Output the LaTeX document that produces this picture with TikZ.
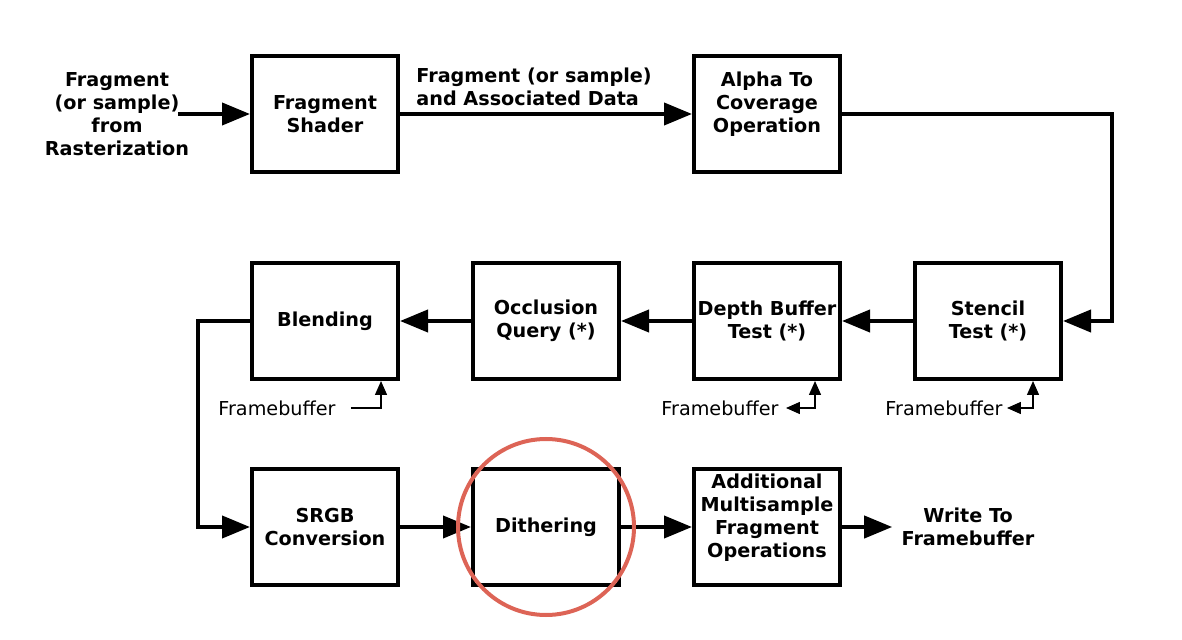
\documentclass[tikz,border=0pt]{standalone}
\usepackage{fontspec}
\setmainfont{DejaVu Sans}
\usetikzlibrary{positioning, arrows.meta}

\definecolor{ringred}{RGB}{221,100,86}

\tikzset{
  stage/.style={draw, line width=2pt, minimum width=73pt, minimum height=58pt,
    align=center, inner sep=0pt, font=\fontsize{9.6}{11.5}\selectfont\bfseries},
  plain/.style={align=center, inner sep=0pt, font=\fontsize{9.6}{11.5}\selectfont\bfseries},
  fbtext/.style={inner sep=0pt, font=\fontsize{9.6}{11.5}\selectfont},
  flow/.style={line width=2pt, -{Triangle[length=14pt,width=11pt]}},
  fbflow/.style={line width=0.7pt, -{Triangle[length=7pt,width=6pt]}},
  fbboth/.style={line width=0.7pt, {Triangle[length=7pt,width=6pt]}-{Triangle[length=7pt,width=6pt]}},
}

\begin{document}
\begin{tikzpicture}[x=0.5pt, y=-0.5pt]
  \useasboundingbox (0,0) rectangle (1182,640);

  %first row
  \node[plain] (src) at (117,114) {Fragment\\(or sample)\\from\\Rasterization};
  \node[stage] (shader) at (325,114) {Fragment\\Shader};
  \node[stage] (alpha) at (767,114) {Alpha To\\Coverage\\Operation\\\mbox{}};
  \node[plain, anchor=west, align=left] (datalbl) at (416,87) {Fragment (or sample)\\and Associated Data};

  %second row
  \node[stage] (blend) at (325,321) {Blending};
  \node[stage] (occl) at (546,321) {Occlusion\\Query (*)};
  \node[stage] (depth) at (767,321) {Depth Buffer\\Test (*)};
  \node[stage] (stencil) at (988,321) {Stencil\\Test (*)};

  %third row
  \node[stage] (srgb) at (325,527) {SRGB\\Conversion};
  \node[stage] (dither) at (546,527) {Dithering};
  \node[stage] (extra) at (767,527) {Additional\\Multisample\\Fragment\\Operations\\\mbox{}};
  \node[plain, inner sep=4.5pt] (sink) at (968,527) {Write To\\Framebuffer};

  %framebuffer labels
  \node[fbtext] (fbA) at (277,408) {Framebuffer};
  \node[fbtext] (fbB) at (720,408) {Framebuffer};
  \node[fbtext] (fbC) at (944,408) {Framebuffer};

  %turns
  \coordinate (srcout) at (178,114);
  \coordinate (turnA) at (1112,114);
  \coordinate (turnB) at (198,321);

  % main flow
  \draw[flow] (srcout) -- (shader);
  \draw[flow] (shader) -- (alpha);
  \draw[flow] (alpha) -- (turnA) |- (stencil);
  \draw[flow] (stencil) -- (depth);
  \draw[flow] (depth) -- (occl);
  \draw[flow] (occl) -- (blend);
  \draw[flow] (blend) -- (turnB) |- (srgb);
  \draw[flow] (srgb) -- (dither);
  \draw[flow] (dither) -- (extra);
  \draw[flow] (extra) -- (sink);

  % framebuffer access
  \draw[fbflow] ([xshift=7.5pt]fbA.east) -| ([xshift=28pt]blend.south);
  \draw[fbboth] ([xshift=3.5pt]fbB.east) -| ([xshift=24pt]depth.south);
  \draw[fbboth] ([xshift=2pt]fbC.east) -| ([xshift=22.5pt]stencil.south);

  % highlight
  \draw[ringred, line width=2pt] (dither) circle[radius=44pt];
\end{tikzpicture}
\end{document}
